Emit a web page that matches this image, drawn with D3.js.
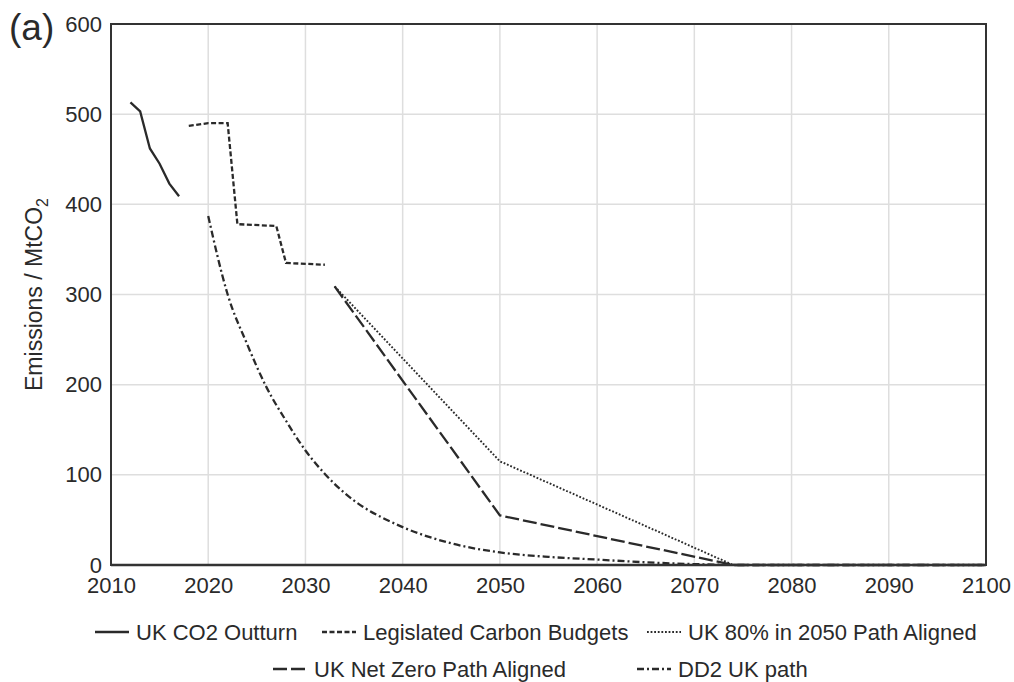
<!DOCTYPE html>
<html>
<head>
<meta charset="utf-8">
<script src="https://cdn.jsdelivr.net/npm/d3@7"></script>
<style>
  html, body { margin: 0; padding: 0; background: #fff; }
  svg { display: block; font-family: "Liberation Sans", Arial, sans-serif; }
</style>
</head>
<body>
<svg id="chart" width="1014" height="682"></svg>
<script>
// UK CO2 emission pathways (MtCO2)
const outturnYears   = [2012, 2013, 2014, 2015, 2016, 2017];
const outturnValues  = [513, 503, 462, 445, 423, 409];

const budgetYears    = [2018, 2020, 2022, 2023, 2027, 2028, 2032];
const budgetValues   = [487, 490, 490, 378, 376, 335, 333];

const path80Years    = [2033, 2050, 2074, 2100];
const path80Values   = [309, 115, 0, 0];

const netZeroYears   = [2033, 2050, 2074, 2100];
const netZeroValues  = [309, 55, 0, 0];

const dd2Years  = [2020, 2022, 2024, 2026, 2028, 2030, 2032, 2034, 2036, 2038, 2040, 2045, 2050, 2055, 2060, 2065, 2070, 2075, 2100];
const dd2Values = [387, 300, 245, 197, 160, 127, 101, 80, 64, 52, 42, 24, 14, 9, 6, 3, 1, 0, 0];

const xTicks = [2010, 2020, 2030, 2040, 2050, 2060, 2070, 2080, 2090, 2100];
const yTicks = [0, 100, 200, 300, 400, 500, 600];

const seriesNames = ["UK CO2 Outturn", "Legislated Carbon Budgets", "UK 80% in 2050 Path Aligned",
                     "UK Net Zero Path Aligned", "DD2 UK path"];

const svg = d3.select("#chart");
const ink = "#2a2a2a";
const margin = { left: 111, right: 28, top: 24, bottom: 117 };
const W = 1014, H = 682;

const x = d3.scaleLinear().domain([2010, 2100]).range([margin.left, W - margin.right]);
const y = d3.scaleLinear().domain([0, 600]).range([H - margin.bottom, margin.top]);

// grid
const grid = svg.append("g");
grid.selectAll("line.v").data(xTicks.slice(1, -1)).join("line")
  .attr("x1", d => x(d)).attr("x2", d => x(d))
  .attr("y1", y(0)).attr("y2", y(600))
  .attr("stroke", "#dedede").attr("stroke-width", 1.5);
grid.selectAll("line.h").data(yTicks.slice(1, -1)).join("line")
  .attr("x1", x(2010)).attr("x2", x(2100))
  .attr("y1", d => y(d)).attr("y2", d => y(d))
  .attr("stroke", "#dedede").attr("stroke-width", 1.5);

// axes (labels only, no tick marks)
const xAxis = svg.append("g")
  .attr("transform", `translate(0,${y(0)})`)
  .call(d3.axisBottom(x).tickValues(xTicks).tickFormat(d3.format("d")).tickSize(0).tickPadding(12));
xAxis.select(".domain").remove();
xAxis.selectAll("text").attr("font-size", 22).attr("fill", ink)
  .attr("font-family", "Liberation Sans, Arial, sans-serif");

const yAxis = svg.append("g")
  .attr("transform", `translate(${x(2010)},0)`)
  .call(d3.axisLeft(y).tickValues(yTicks).tickSize(0).tickPadding(9));
yAxis.select(".domain").remove();
yAxis.selectAll("text").attr("font-size", 22).attr("fill", ink)
  .attr("font-family", "Liberation Sans, Arial, sans-serif");

// series lines
const styles = [
  { dash: null,          width: 2.3 },
  { dash: "5,2.5",       width: 2.3 },
  { dash: "1.8,1.8",     width: 1.9 },
  { dash: "14,4",        width: 2.3 },
  { dash: "7,3,2,3",     width: 2.3 }
];

const seriesData = [
  { xs: outturnYears, ys: outturnValues, curve: d3.curveLinear },
  { xs: budgetYears,  ys: budgetValues,  curve: d3.curveLinear },
  { xs: path80Years,  ys: path80Values,  curve: d3.curveLinear },
  { xs: netZeroYears, ys: netZeroValues, curve: d3.curveLinear },
  { xs: dd2Years,     ys: dd2Values,     curve: d3.curveMonotoneX }
];

const lines = svg.append("g");
seriesData.forEach((s, i) => {
  const pts = s.xs.map((yr, k) => [yr, s.ys[k]]);
  const gen = d3.line().x(d => x(d[0])).y(d => y(d[1])).curve(s.curve);
  lines.append("path")
    .attr("d", gen(pts))
    .attr("fill", "none")
    .attr("stroke", ink)
    .attr("stroke-width", styles[i].width)
    .attr("stroke-dasharray", styles[i].dash);
});

// frame
svg.append("rect")
  .attr("x", x(2010)).attr("y", y(600))
  .attr("width", x(2100) - x(2010)).attr("height", y(0) - y(600))
  .attr("fill", "none").attr("stroke", "#333").attr("stroke-width", 2);
svg.append("line")
  .attr("x1", x(2010)).attr("x2", x(2100)).attr("y1", y(0)).attr("y2", y(0))
  .attr("stroke", "#333").attr("stroke-width", 2.6);

// y-axis title
const yt = svg.append("text")
  .attr("transform", `translate(42,${(y(0) + y(600)) / 2}) rotate(-90)`)
  .attr("text-anchor", "middle")
  .attr("font-size", 23).attr("fill", ink);
yt.append("tspan").text("Emissions / MtCO");
yt.append("tspan").attr("font-size", 16).attr("dy", 6).text("2");

// panel label
svg.append("text").attr("x", 9).attr("y", 40)
  .attr("font-size", 37).attr("fill", ink).text("(a)");

// legend
const legendItems = [
  { i: 0, x: 95,  y: 632 },
  { i: 1, x: 322, y: 632 },
  { i: 2, x: 647, y: 632 },
  { i: 3, x: 273, y: 669 },
  { i: 4, x: 637, y: 669 }
];
const legend = svg.append("g");
legendItems.forEach(it => {
  const g = legend.append("g").attr("transform", `translate(${it.x},${it.y})`);
  g.append("line").attr("x1", 0).attr("x2", 34).attr("y1", 0).attr("y2", 0)
    .attr("stroke", ink).attr("stroke-width", styles[it.i].width)
    .attr("stroke-dasharray", styles[it.i].dash);
  g.append("text").attr("x", 41).attr("y", 7.5)
    .attr("font-size", 22).attr("fill", ink)
    .text(seriesNames[it.i]);
});
</script>
</body>
</html>
